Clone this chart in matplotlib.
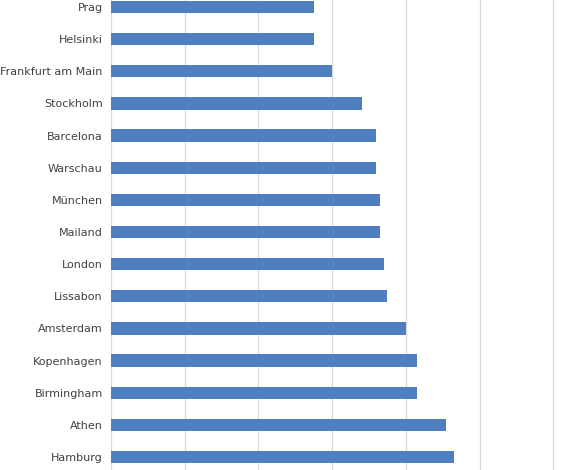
import matplotlib.pyplot as plt

cities = ["Prag", "Helsinki", "Frankfurt am Main", "Stockholm", "Barcelona",
          "Warschau", "München", "Mailand", "London", "Lissabon", "Amsterdam",
          "Kopenhagen", "Birmingham", "Athen", "Hamburg"]
values = [2.75, 2.75, 3.0, 3.4, 3.6, 3.6, 3.65, 3.65, 3.7, 3.75, 4.0,
          4.15, 4.15, 4.55, 4.65]

fig = plt.figure(figsize=(5.73, 4.70), dpi=100)
ax = fig.add_axes([111 / 573, 0, 1 - 111 / 573, 1])

pos = list(range(len(cities)))
ax.barh(pos, values, height=0.38, color="#4f7fc0", zorder=3)

ax.set_ylim(14.405, -0.218)
ax.set_xlim(0, (573 - 111) / 73.7)
ax.set_xticks([0, 1, 2, 3, 4, 5, 6])
ax.set_xticklabels([])
ax.tick_params(axis="x", length=0)
ax.grid(axis="x", color="#d9d9d9", linewidth=0.9, zorder=0)
ax.set_yticks(pos)
ax.set_yticklabels(cities, fontsize=8, color="#404040")
ax.tick_params(axis="y", length=0, pad=6)
for s in ax.spines.values():
    s.set_visible(False)

fig.savefig("out.png", dpi=100)
